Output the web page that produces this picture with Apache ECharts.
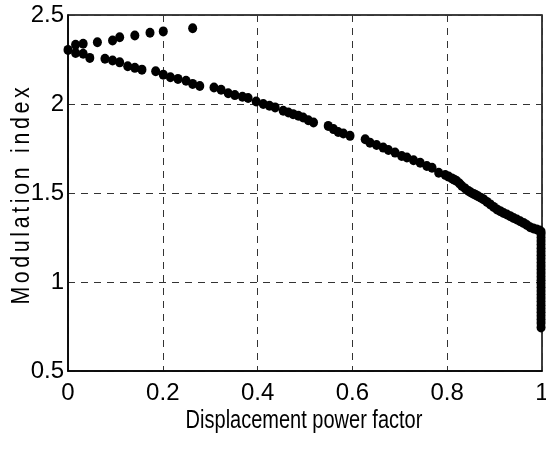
<!DOCTYPE html>
<html>
<head>
<meta charset="utf-8">
<script src="https://cdn.jsdelivr.net/npm/echarts@6/dist/echarts.min.js"></script>
<style>html,body{margin:0;padding:0;background:#fff}#c{width:546px;height:450px}</style>
</head>
<body>
<div id="c"></div>
<script>
// Upper branch (few points)
const upperX = [0, 0.016, 0.032, 0.062, 0.094, 0.109, 0.141, 0.173, 0.201, 0.263];
const upperY = [2.304, 2.333, 2.338, 2.347, 2.357, 2.375, 2.385, 2.400, 2.408, 2.426];
// Lower branch
const lowerX = [0.016, 0.032, 0.046, 0.078, 0.094, 0.109, 0.126, 0.141, 0.156, 0.185, 0.201, 0.216, 0.232, 0.249, 0.263, 0.278, 0.308, 0.323, 0.338, 0.352, 0.368, 0.380, 0.397, 0.412, 0.425, 0.437, 0.454, 0.465, 0.475, 0.486, 0.496, 0.507, 0.518, 0.549, 0.560, 0.570, 0.581, 0.595, 0.627, 0.637, 0.651, 0.665, 0.676, 0.690, 0.704, 0.715, 0.729, 0.743, 0.757, 0.768, 0.782, 0.796, 0.803, 0.810, 0.815, 0.820, 0.826, 0.831, 0.838, 0.845, 0.850, 0.856, 0.861, 0.866, 0.872, 0.877, 0.884, 0.891, 0.898, 0.905, 0.912, 0.919, 0.926, 0.933, 0.940, 0.947, 0.954, 0.961, 0.968, 0.975, 0.982, 0.989, 0.995, 0.998];
const lowerY = [2.287, 2.282, 2.259, 2.254, 2.244, 2.234, 2.212, 2.203, 2.193, 2.184, 2.165, 2.150, 2.141, 2.131, 2.113, 2.101, 2.093, 2.080, 2.060, 2.050, 2.041, 2.034, 2.014, 2.000, 1.990, 1.981, 1.962, 1.952, 1.943, 1.934, 1.924, 1.909, 1.896, 1.877, 1.859, 1.843, 1.834, 1.821, 1.802, 1.783, 1.770, 1.755, 1.742, 1.727, 1.708, 1.699, 1.684, 1.670, 1.652, 1.642, 1.614, 1.601, 1.592, 1.582, 1.575, 1.567, 1.553, 1.539, 1.525, 1.511, 1.503, 1.495, 1.488, 1.480, 1.472, 1.464, 1.450, 1.436, 1.422, 1.408, 1.398, 1.388, 1.379, 1.370, 1.360, 1.351, 1.341, 1.332, 1.320, 1.308, 1.301, 1.295, 1.289, 1.283];
// Vertical segment at unity power factor
const unityX = [0.998, 0.998, 0.998, 0.998, 0.998, 0.998, 0.998, 0.998, 0.998, 0.998, 0.998, 0.998, 0.998, 0.998, 0.998, 0.998, 0.998, 0.998, 0.998, 0.998, 0.998, 0.998, 0.998, 0.998, 0.998, 0.998, 0.998];
const unityY = [1.27, 1.25, 1.23, 1.21, 1.19, 1.17, 1.15, 1.13, 1.11, 1.09, 1.07, 1.05, 1.03, 1.01, 0.99, 0.97, 0.95, 0.93, 0.91, 0.89, 0.87, 0.85, 0.83, 0.81, 0.79, 0.77, 0.745];

const xTicks = [0, 0.2, 0.4, 0.6, 0.8, 1];
const yTicks = [0.5, 1, 1.5, 2, 2.5];
const xTitle = 'Displacement power factor';
const yTitle = 'Modulation index';

const pts = [];
[[upperX, upperY], [lowerX, lowerY], [unityX, unityY]].forEach(([xs, ys]) => {
  xs.forEach((x, i) => pts.push([x, ys[i]]));
});

const FONT = "'Liberation Sans', Arial, sans-serif";
const yRich = yTitle.split('').map(ch => ch === ' ' ? '{g| }{g| }' : '{a|' + ch + '}').join('{g| }');

const chart = echarts.init(document.getElementById('c'), null, {renderer: 'canvas'});
chart.setOption({
  animation: false,
  backgroundColor: '#fff',
  grid: {left: 68, right: 4, top: 15, bottom: 79, containLabel: false, outerBoundsMode: 'none',
    show: true, borderColor: '#000', borderWidth: 1.5, backgroundColor: 'transparent'},
  xAxis: {
    type: 'value', min: 0, max: 1, interval: 0.2,
    axisLine: {show: true, lineStyle: {color: '#000', width: 1.5}},
    axisTick: {show: false},
    axisLabel: {fontFamily: FONT, fontSize: 24, color: '#000', margin: 10,
      formatter: v => { const t = xTicks.find(k => Math.abs(k - v) < 1e-9); return t === undefined ? '' : String(t); }},
    splitLine: {show: true, lineStyle: {color: '#333', type: [7, 6], width: 1}}
  },
  yAxis: {
    type: 'value', min: 0.5, max: 2.5, interval: 0.5,
    axisLine: {show: true, lineStyle: {color: '#000', width: 1.5}},
    axisTick: {show: false},
    axisLabel: {fontFamily: FONT, fontSize: 24, color: '#000', margin: 4,
      formatter: v => { const t = yTicks.find(k => Math.abs(k - v) < 1e-9); return t === undefined ? '' : String(t); }},
    splitLine: {show: true, lineStyle: {color: '#333', type: [7, 6], width: 1}}
  },
  graphic: [
    {type: 'text', x: 304, y: 421, scaleX: 0.8,
      style: {text: xTitle, fontFamily: FONT, fontSize: 25, fill: '#000', align: 'center', verticalAlign: 'middle'}},
    {type: 'text', x: 22, y: 196, rotation: Math.PI / 2, scaleX: 0.82,
      style: {text: yRich, fill: '#000', align: 'center', verticalAlign: 'middle',
        rich: {a: {fontFamily: FONT, fontSize: 26, fill: '#000'}, g: {fontFamily: FONT, fontSize: 16}}}}
  ],
  series: [{
    type: 'scatter',
    data: pts,
    symbol: 'circle',
    symbolSize: [9, 10],
    itemStyle: {color: '#000', opacity: 1},
    z: 5
  }]
});
</script>
</body>
</html>
